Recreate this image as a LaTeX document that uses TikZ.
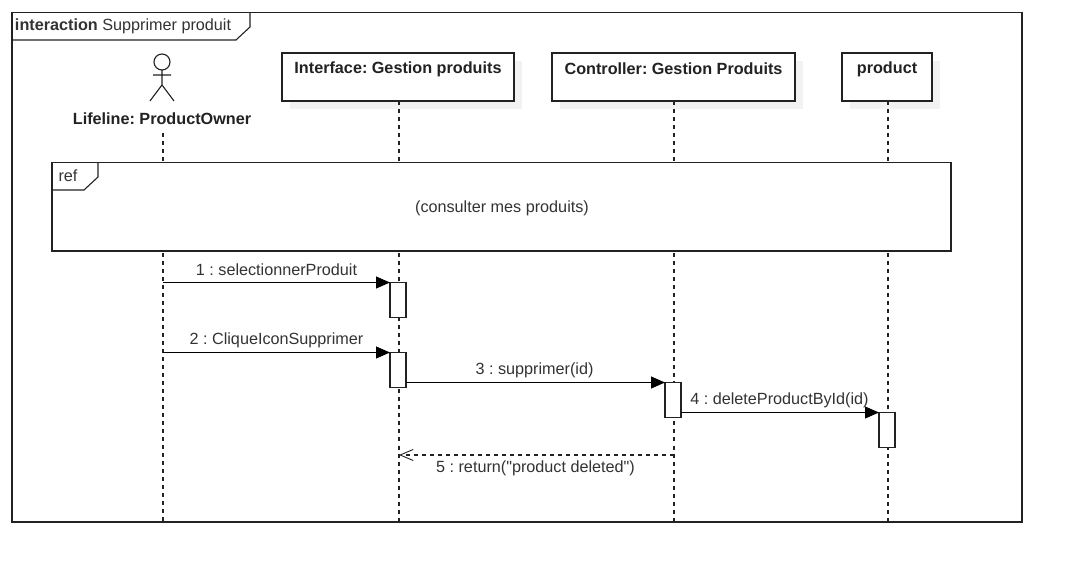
\documentclass[tikz,border=0pt]{standalone}
\usepackage{fontspec}
\setmainfont{Liberation Sans}
\newfontfamily\plainfam{Liberation Sans}
\usetikzlibrary{arrows.meta}
\definecolor{ink}{HTML}{222222}
\definecolor{txt}{HTML}{333333}
\definecolor{shadowgray}{HTML}{F2F2F2}
\tikzset{
  x=1pt,y=-1pt,
  every node/.style={inner sep=0pt,outer sep=0pt},
  frameline/.style={draw=ink,line width=1.1pt},
  lifebox/.style={draw=ink,line width=1.1pt,fill=white,minimum height=48pt},
  shadowbox/.style={fill=shadowgray,minimum height=48pt},
  headtext/.style={font=\frenchspacing\bfseries\fontsize{16.2}{18}\selectfont,text=ink},
  msgtext/.style={font=\frenchspacing\fontsize{16.2}{18}\selectfont,text=txt},
  lifeline/.style={draw=ink,line width=1.1pt,dash pattern=on 4pt off 4pt},
  activation/.style={draw=ink,line width=1.1pt,fill=white,minimum width=16pt,minimum height=35pt},
  syncmsg/.style={draw=black,line width=1.1pt,-{Triangle[length=14pt,width=12pt]}},
  returnmsg/.style={draw=ink,line width=1.1pt,dash pattern=on 4pt off 4pt,-{Straight Barb[length=13pt,width=11pt,line width=0.9pt]}},
  actorline/.style={draw=ink,line width=1.1pt},
}
\begin{document}
\begin{tikzpicture}
\useasboundingbox (0,0) rectangle (1072,572);
\fill[white] (0,0) rectangle (1072,572);
% outer frame
\node[frameline,minimum width=1010pt,minimum height=509.5pt] (frame) at (517,267.25) {};
\draw[frameline] (12,40) -- (236,40) -- (250,27) -- (250,12.5);
\node[anchor=west,msgtext] (title) at (15,26) {\textbf{interaction} Supprimer produit};
% shadows
\node[shadowbox,minimum width=232pt] (s1) at (406,85) {};
\node[shadowbox,minimum width=243pt] (s2) at (681.5,85) {};
\node[shadowbox,minimum width=90pt] (s3) at (895,85) {};
% lifeline heads
\node[lifebox,minimum width=232pt] (iface) at (398,77) {};
\node[lifebox,minimum width=243pt] (ctrl) at (673.5,77) {};
\node[lifebox,minimum width=90pt] (prod) at (887,77) {};
\node[headtext] (ifacet) at (398,69) {Interface: Gestion produits};
\node[headtext] (ctrlt) at (673.5,69) {Controller: Gestion Produits};
\node[headtext] (prodt) at (887,69) {product};
\node[headtext] (ownert) at (162,119) {Lifeline: ProductOwner};
% actor
\draw[actorline] (162,62) circle (8pt);
\draw[actorline] (162,70) -- (162,85) (153,75) -- (171,75) (150,101) -- (162,85) -- (174,101);
% lifelines
\coordinate (ownertop) at (163,133);
\coordinate (ifacetop) at (399,101.5);
\coordinate (ctrltop) at (674,101.5);
\coordinate (prodtop) at (888,101.5);
\coordinate (ownerend) at (163,522);
\coordinate (ifaceend) at (399,522);
\coordinate (ctrlend) at (674,522);
\coordinate (prodend) at (888,522);
\draw[lifeline] (ownertop) -- (ownerend);
\draw[lifeline] (ifacetop) -- (ifaceend);
\draw[lifeline] (ctrltop) -- (ctrlend);
\draw[lifeline] (prodtop) -- (prodend);
% ref fragment
\node[frameline,fill=white,minimum width=899pt,minimum height=88.5pt] (ref) at (501.5,206.75) {};
\draw[frameline] (52,190) -- (84,190) -- (98,177) -- (98,162.5);
\node[msgtext] (reft) at (68,176) {ref};
\node[msgtext] (refc) at (502,208) {(consulter mes produits)};
% activations
\node[activation] (a1) at (398,300) {};
\node[activation] (a2) at (398,370) {};
\node[activation] (a3) at (673,400) {};
\node[activation] (a4) at (887,430) {};
% sources
\coordinate (m1s) at (163,282.5);
\coordinate (m2s) at (163,352.5);
\coordinate (m5s) at (674,455);
\coordinate (m5e) at (399,455);
% messages
\draw[syncmsg] (m1s) -- (a1.north west);
\draw[syncmsg] (m2s) -- (a2.north west);
\draw[syncmsg] (a2.east |- a3.north) -- (a3.north west);
\draw[syncmsg] (a3.east |- a4.north) -- (a4.north west);
\draw[returnmsg] (m5s) -- (m5e);
\node[msgtext] (l1) at (276.5,270) {1 : selectionnerProduit};
\node[msgtext] (l2) at (276.5,340) {2 : CliqueIconSupprimer};
\node[msgtext] (l3) at (534.5,370) {3 : supprimer(id)};
\node[msgtext] (l4) at (779.5,400) {4 : deleteProductById(id)};
\node[msgtext] (l5) at (535.5,468) {\plainfam 5 : return("product deleted")};
\end{tikzpicture}
\end{document}
